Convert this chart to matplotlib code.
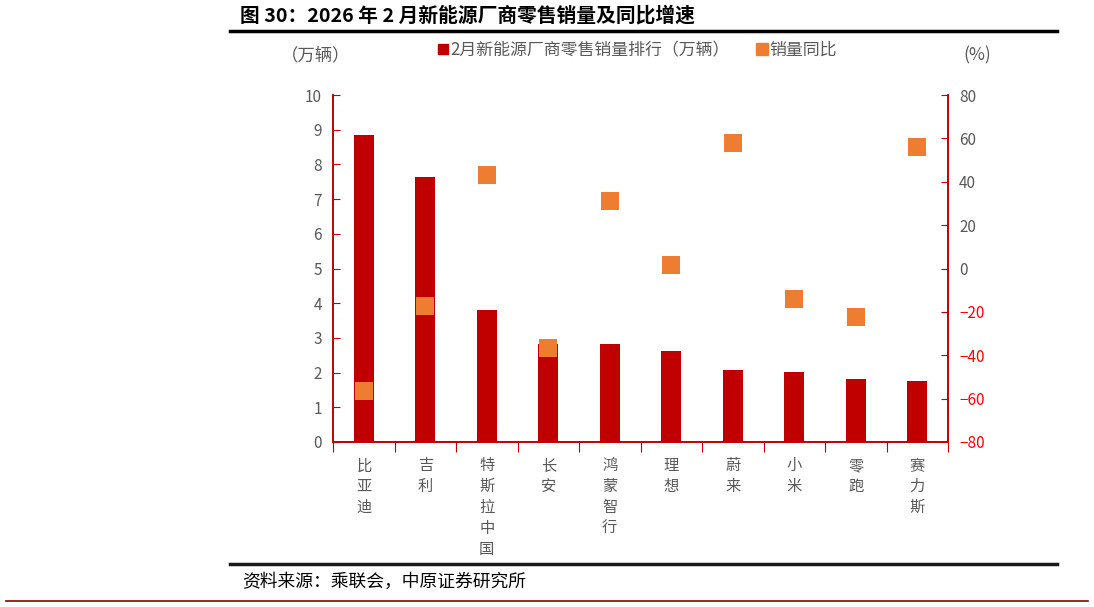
import matplotlib
matplotlib.use("Agg")
import matplotlib.pyplot as plt
from matplotlib.lines import Line2D
import numpy as np

plt.rcParams['font.family'] = ['Noto Sans CJK SC', 'DejaVu Sans']

categories = ["比亚迪", "吉利", "特斯拉中国", "长安", "鸿蒙智行", "理想", "蔚来", "小米", "零跑", "赛力斯"]
sales = [8.85, 7.65, 3.80, 2.82, 2.82, 2.63, 2.07, 2.02, 1.82, 1.76]
yoy = [-56.5, -17.5, 43.0, -36.5, 31.0, 1.5, 58.0, -14.0, -22.5, 56.0]
left_ticks = list(range(0, 11))
right_ticks = list(range(-80, 81, 20))

bar_color = "#C00000"
dot_color = "#ED7D31"
axis_color = "#C00000"
text_gray = "#595959"

W, H = 1094, 607
fig = plt.figure(figsize=(W / 100, H / 100), dpi=100)
ax = fig.add_axes([333 / W, 1 - 442 / H, (948 - 333) / W, (442 - 95) / H])
ax2 = ax.twinx()

x = np.arange(len(categories))
ax.bar(x, sales, width=0.32, color=bar_color, zorder=2)
ax2.scatter(x, yoy, marker="s", s=150, color=dot_color, zorder=3, linewidths=0)

ax.set_xlim(-0.5, len(categories) - 0.5)
ax.set_ylim(0, 10)
ax2.set_ylim(-80, 80)
ax.set_yticks(left_ticks)
ax2.set_yticks(right_ticks)

for a in (ax, ax2):
    a.spines['top'].set_visible(False)
    for s in ('left', 'right', 'bottom'):
        a.spines[s].set_color(axis_color)
        a.spines[s].set_linewidth(1.2)

ax.tick_params(axis='y', direction='in', length=5, color=axis_color, labelsize=11,
               labelcolor=text_gray, pad=8)
ax2.tick_params(axis='y', direction='in', length=5, color=axis_color, labelsize=11,
                labelcolor=text_gray, pad=8)
for lbl, v in zip(ax2.get_yticklabels(), right_ticks):
    if v < 0:
        lbl.set_color("#FF0000")

# x ticks at boundaries, labels at centers
ax.set_xticks(np.arange(-0.5, len(categories), 1.0))
ax.set_xticklabels([])
ax.tick_params(axis='x', which='major', direction='out', length=7, color=axis_color)
ax.set_xticks(x, minor=True)
ax.set_xticklabels(["\n".join(c) for c in categories], minor=True)
ax.tick_params(axis='x', which='minor', length=0, labelsize=11, labelcolor=text_gray, pad=11)
for lbl in ax.get_xticklabels(minor=True):
    lbl.set_verticalalignment('top')
    lbl.set_linespacing(1.3)

# axis unit labels
fig.text(316 / W, 1 - 55 / H, "（万辆）", ha='center', va='center', fontsize=12.5, color=text_gray)
fig.text(977 / W, 1 - 55 / H, "(%)", ha='center', va='center', fontsize=12.5, color=text_gray)

# legend
handles = [Line2D([], [], marker='s', linestyle='none', markersize=7, color=bar_color),
           Line2D([], [], marker='s', linestyle='none', markersize=8, color=dot_color)]
fig.legend(handles, ["2月新能源厂商零售销量排行（万辆）", "销量同比"], ncol=2,
           loc='center left', bbox_to_anchor=(421 / W, 1 - 50 / H), frameon=False,
           fontsize=12.2, labelcolor=text_gray, handletextpad=0.05, columnspacing=1.5,
           handlelength=0.8)

# title and decorative lines
fig.text(240 / W, 1 - 15 / H, "图 30：2026 年 2 月新能源厂商零售销量及同比增速", ha='left', va='center',
         fontsize=14.2, fontweight='bold', color='black')
fig.add_artist(Line2D([230 / W, 1057 / W], [1 - 31 / H, 1 - 31 / H], color='black', lw=2.5))
fig.add_artist(Line2D([230 / W, 1057 / W], [1 - 564 / H, 1 - 564 / H], color='#1a1a1a', lw=2.5))
fig.text(242 / W, 1 - 582 / H, "资料来源：乘联会，中原证券研究所", ha='left', va='center',
         fontsize=12.8, color='black')
fig.add_artist(Line2D([6 / W, 1088 / W], [1 - 601 / H, 1 - 601 / H], color='#8B0000', lw=1.2))

fig.savefig("out.png", dpi=100)
